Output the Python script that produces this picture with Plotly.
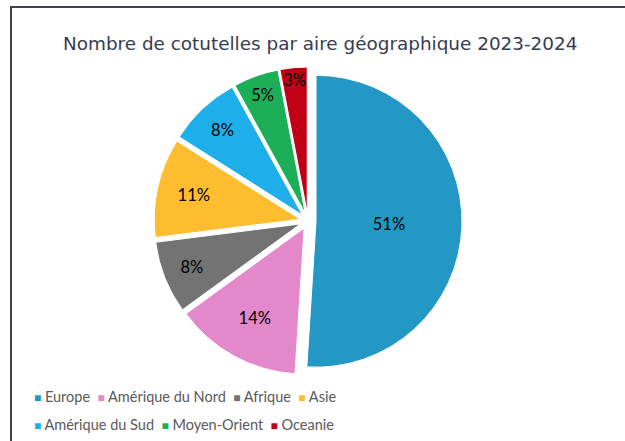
import plotly.graph_objects as go

labels = ["Europe", "Amérique du Nord", "Afrique", "Asie", "Amérique du Sud", "Moyen-Orient", "Oceanie"]
values = [51, 14, 8, 11, 8, 5, 3]
colors = ["#2398c5", "#e388ca", "#737373", "#fdbd2f", "#1eafea", "#1caf58", "#c00015"]
title_text = "Nombre de cotutelles par aire géographique 2023-2024"
legend_rows = [[0, 1, 2, 3], [4, 5, 6]]

W, H = 625, 441
fig = go.Figure()
fig.add_trace(go.Pie(
    labels=labels, values=values, sort=False, direction="clockwise", rotation=0,
    marker=dict(colors=colors, line=dict(color="white", width=1)),
    pull=[0.055] * len(values),
    texttemplate="%{percent:.0%}", textposition="inside",
    insidetextorientation="horizontal",
    textfont=dict(family="Lato, Carlito, sans-serif", size=16.5, color="black"),
    domain=dict(x=[0.2464, 0.7392], y=[0.1497, 0.8481]),
    showlegend=False, hoverinfo="label+percent",
))

annotations = [dict(
    text=title_text, x=320 / W, y=1 - 44 / H, xref="paper", yref="paper",
    xanchor="center", yanchor="middle", showarrow=False,
    font=dict(family="DejaVu Sans, sans-serif", size=18.4, color="#363c50"),
)]
row_y = [396, 424]
for r, idxs in enumerate(legend_rows):
    parts = []
    for i in idxs:
        parts.append(f"<span style='color:{colors[i]};font-size:12px'>■</span>\u00a0{labels[i]}")
    annotations.append(dict(
        text="\u00a0\u00a0".join(parts), x=32 / W, y=1 - row_y[r] / H,
        xref="paper", yref="paper", xanchor="left", yanchor="middle", showarrow=False,
        font=dict(family="Lato, Carlito, sans-serif", size=14.5, color="#595959"),
    ))

fig.update_layout(
    width=W, height=H, margin=dict(l=0, r=0, t=0, b=0),
    paper_bgcolor="white", plot_bgcolor="white",
    uniformtext=dict(minsize=16.5, mode="show"),
    annotations=annotations,
    shapes=[dict(type="rect", xref="paper", yref="paper",
                 x0=11 / W, x1=1.05, y0=-0.05, y1=1 - 7 / H,
                 line=dict(color="#3c4255", width=2))],
)
fig.write_html("out.html", config={"displayModeBar": False},
               post_script="document.body.style.margin='0';")
